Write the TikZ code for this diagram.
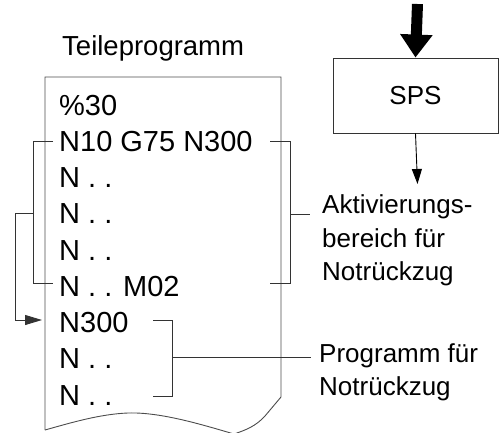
\documentclass[tikz,border=0pt]{standalone}
\usepackage{fontspec}
\setmainfont{Liberation Sans}
\usetikzlibrary{arrows.meta}
\tikzset{
  codeline/.style={anchor=base west, inner sep=0pt, font=\fontsize{29}{29}\selectfont},
  labelline/.style={anchor=base west, inner sep=0pt, font=\fontsize{26}{26}\selectfont},
  bracket/.style={draw=black!80, line width=0.9pt},
  pageedge/.style={draw=black!70, line width=0.9pt},
}
\begin{document}
\begin{tikzpicture}[x=1pt,y=-1pt]
\useasboundingbox (0,0) rectangle (499,432);
% page
\begin{scope}
\clip (0,0) rectangle (499,432);
\draw[pageedge] (45,430) -- (45,77) -- (281,77) -- (281,397) -- (265,416)
  .. controls (256,426) and (246,430) .. (234,434)
  .. controls (200,424) and (160,412) .. (128,413)
  .. controls (100,414) and (70,423) .. (45,430);
\end{scope}
% title
\node[anchor=base west, inner sep=0pt, font=\fontsize{27.5}{27.5}\selectfont] (title) at (62,55) {Teileprogramm};
% code lines
\node[codeline] (l1) at (59,115) {\%30};
\node[codeline] (l2) at (59,151.25) {N10 G75 N300};
\node[codeline] (l3) at (59,187.5) {N . .};
\node[codeline] (l4) at (59,223.75) {N . .};
\node[codeline] (l5) at (59,260) {N . .};
\node[codeline] (l6) at (59,296.25) {N . . M02};
\node[codeline] (l7) at (59,332.5) {N300};
\node[codeline] (l8) at (59,368.75) {N . .};
\node[codeline] (l9) at (59,405) {N . .};
% SPS
\node[draw=black!80, line width=0.9pt, minimum width=165, minimum height=75, inner sep=0pt, font=\fontsize{26}{26}\selectfont] (sps) at (415.5,95.5) {SPS};
\coordinate (intop) at (417.5,4);
\coordinate (spsout) at (417.5,184);
\draw[line width=11pt, -{Triangle[width=31pt,length=23pt]}] (intop) -- (sps.north);
\draw[line width=0.9pt, -{Triangle[width=10pt,length=15pt]}] (sps.south) -- (spsout);
% labels
\node[labelline] (a1) at (322,213.5) {Aktivierungs-};
\node[labelline] (a2) at (322,247) {bereich für};
\node[labelline] (a3) at (322,280.5) {Notrückzug};
\node[labelline] (p1) at (319,362) {Programm für};
\node[labelline] (p2) at (319,395.5) {Notrückzug};
% right bracket (activation range)
\coordinate (rbt) at (270,141);
\coordinate (rbb) at (270,283);
\coordinate (rtick) at (310,214);
\draw[bracket] (rbt) -- (290,141) -- (290,283) -- (rbb);
\draw[bracket] (290,214) -- (rtick);
% left bracket and jump
\coordinate (lbt) at (53,141);
\coordinate (lbb) at (53,283);
\draw[bracket] (lbt) -- (33,141) -- (33,283) -- (lbb);
\coordinate (jmp) at (33,213);
\coordinate (jmpend) at (42,320);
\draw[bracket, -{Triangle[width=10pt,length=17pt]}] (jmp) -- (15,213) -- (15,320) -- (jmpend);
% lower bracket (program)
\coordinate (pbt) at (153,320);
\coordinate (pbb) at (153,396);
\coordinate (ptick) at (311,357);
\draw[bracket] (pbt) -- (172,320) -- (172,396) -- (pbb);
\draw[bracket] (172,357) -- (ptick);
\end{tikzpicture}
\end{document}
